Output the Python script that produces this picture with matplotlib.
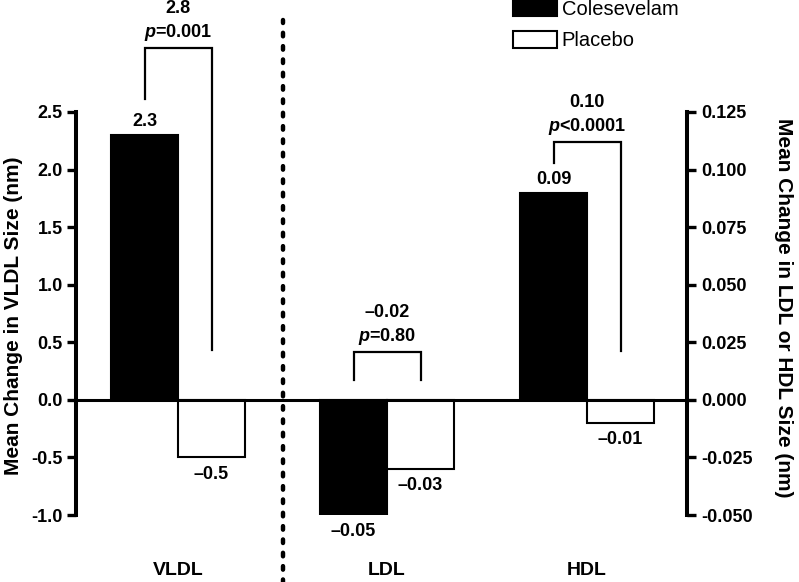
import matplotlib
matplotlib.use("Agg")
import matplotlib.pyplot as plt
from matplotlib.patches import Patch
from matplotlib.ticker import FormatStrFormatter

plt.rcParams['font.family'] = ['Liberation Sans', 'DejaVu Sans']
plt.rcParams['font.weight'] = 'bold'
plt.rcParams['axes.unicode_minus'] = False
plt.rcParams['mathtext.fontset'] = 'custom'
plt.rcParams['mathtext.it'] = 'Liberation Sans:italic:bold'
plt.rcParams['mathtext.rm'] = 'Liberation Sans:bold'

# data
groups = ["VLDL", "LDL", "HDL"]
colesevelam = [2.3, -0.05, 0.09]
placebo = [-0.5, -0.03, -0.01]
col_labels = ["2.3", "\u20130.05", "0.09"]
plc_labels = ["\u20130.5", "\u20130.03", "\u20130.01"]
diff_labels = ["2.8", "\u20130.02", "0.10"]
p_labels = ["$p$=0.001", "$p$=0.80", "$p$<0.0001"]
on_right_axis = [False, True, True]

# left axis units per right axis unit
scale = 20.0

# layout (x in pixel-like units)
centers = [178, 387, 587]
half = 33.5
bracket_top = [3.06, 0.417, 2.243]
bracket_left_end = [2.61, 0.174, 2.06]
bracket_right_end = [0.435, 0.174, 0.426]

fig = plt.figure(figsize=(7.99, 5.82), dpi=100)
ax = fig.add_axes([76 / 799, 67 / 582, 611 / 799, 403 / 582])
ax2 = ax.twinx()

col_plot = [v * scale if r else v for v, r in zip(colesevelam, on_right_axis)]
plc_plot = [v * scale if r else v for v, r in zip(placebo, on_right_axis)]
col_x = [c - half for c in centers]
plc_x = [c + half for c in centers]

ax.bar(col_x, col_plot, width=2 * half, color='black', edgecolor='black', linewidth=1.5, zorder=2)
ax.bar(plc_x, plc_plot, width=2 * half, color='white', edgecolor='black', linewidth=1.5, zorder=2)
ax.axhline(0, color='black', lw=2.2, zorder=3)

# value labels
for x, v, lab in zip(col_x + plc_x, col_plot + plc_plot, col_labels + plc_labels):
    dy = 9.5 if v > 0 else -12
    ax.annotate(lab, xy=(x, v), xytext=(0, dy), textcoords='offset points',
                ha='center', va='center', fontsize=13, fontweight='bold')

# brackets with difference and p-value
for i in range(len(groups)):
    x0, x1 = col_x[i], plc_x[i]
    ax.plot([x0, x0, x1, x1],
            [bracket_left_end[i], bracket_top[i], bracket_top[i], bracket_right_end[i]],
            color='black', lw=1.6, clip_on=False, solid_joinstyle='miter')
    xc = (x0 + x1) / 2
    ax.annotate(p_labels[i], xy=(xc, bracket_top[i]), xytext=(0, 11),
                textcoords='offset points', ha='center', va='center',
                fontsize=13, fontweight='bold', annotation_clip=False)
    ax.annotate(diff_labels[i], xy=(xc, bracket_top[i]), xytext=(0, 28),
                textcoords='offset points', ha='center', va='center',
                fontsize=13, fontweight='bold', annotation_clip=False)

# dashed divider between VLDL and LDL/HDL
div_x = (plc_x[0] + half + col_x[1] - half) / 2
ax.axvline(div_x, ymin=-0.17, ymax=1.228, color='black', lw=3.2,
           linestyle=(0, (0.8, 2.2)), dash_capstyle='round', clip_on=False)

ax.set_xlim(76, 687)
ax.set_ylim(-1.0, 2.5)
ax2.set_ylim(-1.0 / scale, 2.5 / scale)
ax.set_yticks([-1.0, -0.5, 0.0, 0.5, 1.0, 1.5, 2.0, 2.5])
ax2.set_yticks([-0.05, -0.025, 0.0, 0.025, 0.05, 0.075, 0.1, 0.125])
ax.yaxis.set_major_formatter(FormatStrFormatter('%.1f'))
ax2.yaxis.set_major_formatter(FormatStrFormatter('%.3f'))

ax.set_xticks(centers, groups)
ax.tick_params(axis='x', length=0, pad=34, labelsize=14)
ax.tick_params(axis='y', length=6.5, width=2.4, pad=3, labelsize=13)
ax2.tick_params(axis='y', length=6.5, width=2.4, pad=3.5, labelsize=13)

for a in (ax, ax2):
    a.spines['top'].set_visible(False)
    a.spines['bottom'].set_visible(False)
ax.spines['right'].set_visible(False)
ax2.spines['left'].set_visible(False)
ax.spines['left'].set_linewidth(2.9)
ax2.spines['right'].set_linewidth(2.9)

ax.set_ylabel("Mean Change in VLDL Size (nm)", fontsize=15, fontweight='bold')
ax.yaxis.set_label_coords(-0.086, 0.494)
ax2.set_ylabel("Mean Change in LDL or HDL Size (nm)", fontsize=15, fontweight='bold',
               rotation=270, va='bottom')
ax2.yaxis.set_label_coords(1.143, 0.514)

handles = [Patch(facecolor='black', edgecolor='black', linewidth=1.5),
           Patch(facecolor='white', edgecolor='black', linewidth=1.5)]
leg = ax.legend(handles, ["Colesevelam", "Placebo"], loc='upper left',
                bbox_to_anchor=(513 / 799, 1.0), bbox_transform=fig.transFigure,
                frameon=False, borderpad=0, borderaxespad=0,
                handlelength=2.16, handleheight=0.87, handletextpad=0.25,
                labelspacing=0.6, prop={'size': 14.5, 'weight': 'normal'})

fig.savefig("out.png", dpi=100)
